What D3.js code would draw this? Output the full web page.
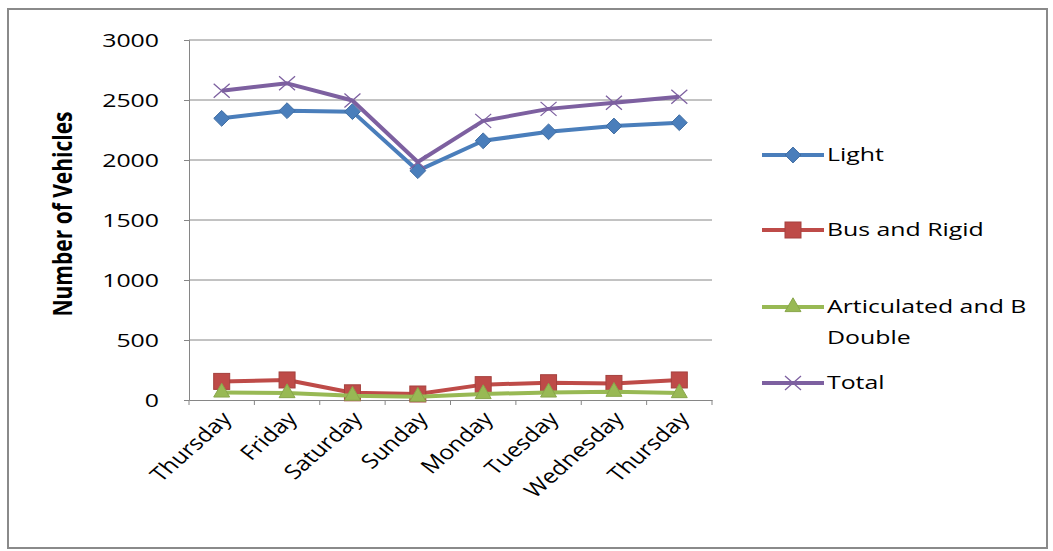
<!DOCTYPE html>
<html><head><meta charset="utf-8">
<script src="https://cdn.jsdelivr.net/npm/d3@7"></script>
<style>body{margin:0;background:#fff}svg{display:block}text{font-family:"Open Sans",sans-serif;fill:#000}</style>
</head><body>
<svg id="c" width="1053" height="551"></svg>
<script>
const categories = ["Thursday","Friday","Saturday","Sunday","Monday","Tuesday","Wednesday","Thursday"];
const light = [2347, 2411, 2403, 1911, 2160, 2235, 2283, 2311];
const busRigid = [155, 167, 60, 50, 128, 144, 138, 167];
const articulated = [63, 58, 36, 28, 50, 63, 69, 58];
const total = [2578, 2639, 2496, 1983, 2326, 2426, 2478, 2527];
const yTicks = [0, 500, 1000, 1500, 2000, 2500, 3000];
const seriesNames = ["Light", "Bus and Rigid", "Articulated and B Double", "Total"];

const series = [
  {name: seriesNames[0], values: light, color: "#4A7EBB", marker: "diamond"},
  {name: seriesNames[1], values: busRigid, color: "#BE4B48", marker: "square"},
  {name: seriesNames[2], values: articulated, color: "#98B954", marker: "triangle"},
  {name: seriesNames[3], values: total, color: "#7D60A0", marker: "x"}
];

const SX = 1.38; // horizontal stretch of the text, as in the reference
const svg = d3.select("#c");
svg.append("rect").attr("x", 8).attr("y", 9).attr("width", 1039).attr("height", 539)
  .attr("fill", "#fff").attr("stroke", "#8a8a8a").attr("stroke-width", 2);

const L = 189, R = 712, T = 40, B = 400;
const x = d3.scalePoint().domain(d3.range(categories.length)).range([L, R]).padding(0.5);
const xb = d3.scaleBand().domain(d3.range(categories.length)).range([L, R]);
const y = d3.scaleLinear().domain([0, 3000]).range([B, T]);

// gridlines
svg.append("g").selectAll("line").data(yTicks.filter(d => d > 0)).join("line")
  .attr("x1", L).attr("x2", R).attr("y1", d => y(d)).attr("y2", d => y(d))
  .attr("stroke", "#868686").attr("stroke-width", 1);

// y axis
const ya = svg.append("g").attr("transform", `translate(${L},0)`)
  .call(d3.axisLeft(y).tickValues(yTicks).tickSize(5).tickFormat(d3.format("d")));
ya.select(".domain").attr("stroke", "#868686");
ya.selectAll(".tick line").attr("stroke", "#868686");
ya.selectAll(".tick text").attr("x", 0).attr("dy", "0.36em")
  .attr("transform", `translate(-30,0) scale(${SX},1)`)
  .attr("font-size", 18).attr("font-family", "Open Sans").attr("fill", "#000");

// x axis
const xa = svg.append("g").attr("transform", `translate(0,${B})`)
  .call(d3.axisBottom(xb).tickSize(0).tickFormat(i => categories[i]));
xa.select(".domain").attr("stroke", "#868686");
xa.selectAll(".tick text")
  .attr("font-size", 20).attr("font-family", "Open Sans").attr("fill", "#000")
  .attr("text-anchor", "end")
  .attr("x", 0).attr("y", 0).attr("dy", "0.35em")
  .attr("transform", `translate(5,15) scale(1.22,1) rotate(-47)`);
// boundary ticks
svg.append("g").selectAll("line").data(d3.range(categories.length + 1)).join("line")
  .attr("x1", i => L + i * xb.bandwidth()).attr("x2", i => L + i * xb.bandwidth())
  .attr("y1", B).attr("y2", B + 5).attr("stroke", "#868686");

// y title
svg.append("text").attr("transform", `translate(72,214) scale(1.3,1) rotate(-90)`)
  .attr("text-anchor", "middle").attr("font-size", 21).attr("font-weight", "bold")
  .text("Number of Vehicles");

function drawMarker(g, type, color, cx, cy) {
  if (type === "diamond") {
    g.append("path").attr("d", d3.symbol(d3.symbolDiamond2, 160)())
      .attr("transform", `translate(${cx},${cy})`).attr("fill", color).attr("stroke", d3.color(color).darker(0.4)).attr("stroke-width", 1);
  } else if (type === "square") {
    g.append("rect").attr("x", cx - 8).attr("y", cy - 8).attr("width", 16).attr("height", 16)
      .attr("fill", color).attr("stroke", d3.color(color).darker(0.4)).attr("stroke-width", 1);
  } else if (type === "triangle") {
    g.append("path").attr("d", d3.symbol(d3.symbolTriangle, 110)())
      .attr("transform", `translate(${cx},${cy})`).attr("fill", color).attr("stroke", d3.color(color).darker(0.3)).attr("stroke-width", 1);
  } else {
    g.append("path").attr("d", `M${cx-8},${cy-7}L${cx+8},${cy+7}M${cx-8},${cy+7}L${cx+8},${cy-7}`)
      .attr("stroke", color).attr("stroke-width", 1.3).attr("fill", "none");
  }
}

const line = d3.line().x((d, i) => x(i)).y(d => y(d));
series.forEach(s => {
  const g = svg.append("g");
  g.append("path").datum(s.values).attr("d", line).attr("fill", "none")
    .attr("stroke", s.color).attr("stroke-width", 4).attr("stroke-linejoin", "round");
  s.values.forEach((v, i) => drawMarker(g, s.marker, s.color, x(i), y(v)));
});

// legend
const legY = [155, 230, 307, 383];
series.forEach((s, k) => {
  const g = svg.append("g");
  const ly = legY[k];
  g.append("line").attr("x1", 762).attr("x2", 824).attr("y1", ly).attr("y2", ly)
    .attr("stroke", s.color).attr("stroke-width", 4);
  drawMarker(g, s.marker, s.color, 793, ly);
  const addText = (txt, ty) => g.append("text").attr("x", 0).attr("y", 0).attr("dy", "0.35em")
    .attr("transform", `translate(827,${ty}) scale(${SX},1)`)
    .attr("font-size", 18).text(txt);
  if (k === 2) {
    addText("Articulated and B", ly);
    addText("Double", ly + 31);
  } else addText(s.name, ly);
});
</script>
</body></html>
